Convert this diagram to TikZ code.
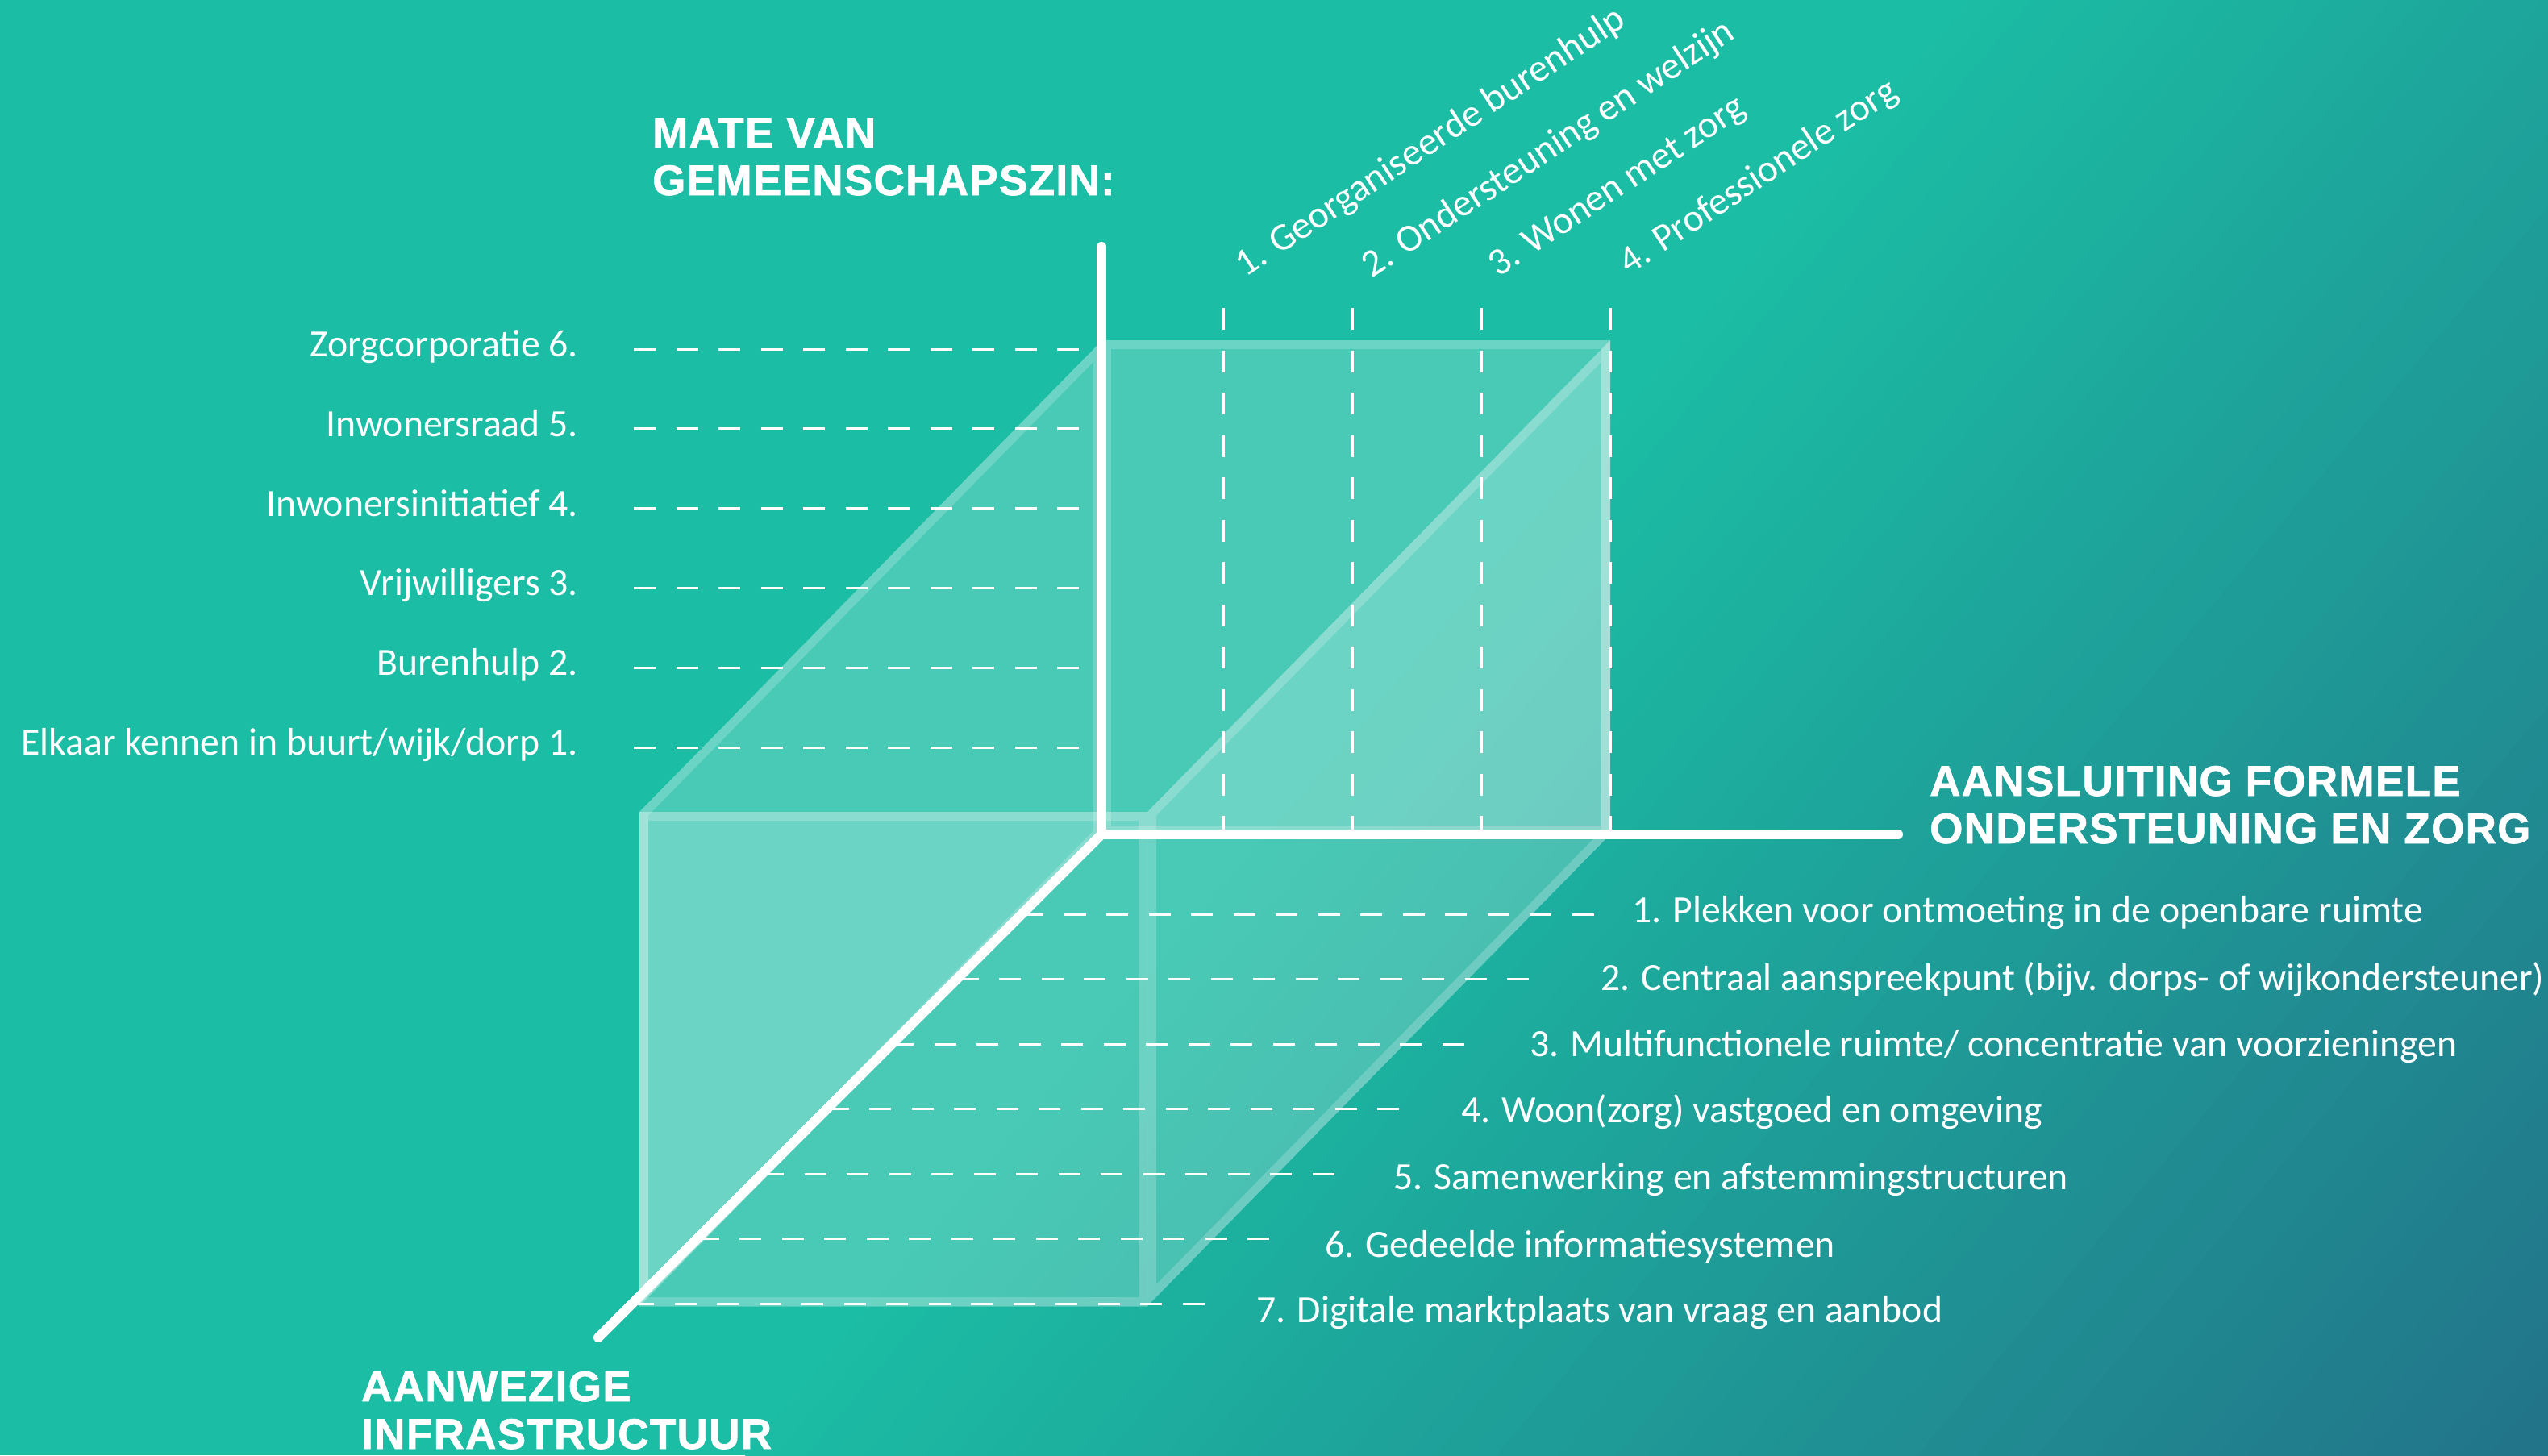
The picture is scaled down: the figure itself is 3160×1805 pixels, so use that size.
\documentclass[tikz,border=0pt]{standalone}
\usepackage{fontspec}
\setmainfont{Carlito}
\newfontfamily\headfont[LetterSpace=2.5,FakeBold=1.2]{Liberation Sans}
\definecolor{bgA}{HTML}{1BBDA4}
\definecolor{bgB}{HTML}{227489}
\tikzset{
  axisline/.style={white, line width=12pt, line cap=round, line join=miter},
  dashline/.style={white, line width=3pt, dash pattern=on 27pt off 25.5pt},
  panelfill/.style={fill=white, fill opacity=0.2},
  panelrim/.style={draw=white, draw opacity=0.2, line width=22pt},
  lbl/.style={text=white, inner sep=0pt, font=\fontsize{47.7}{56}\selectfont},
  head/.style={text=white, inner sep=0pt, font=\headfont\bfseries\fontsize{53}{59}\selectfont},
}
\newcommand{\panelface}[4]{%
  \begin{scope}
    \clip (#1) -- (#2) -- (#3) -- (#4) -- cycle;
    \fill[panelfill] (#1) -- (#2) -- (#3) -- (#4) -- cycle;
    \draw[panelrim] (#1) -- (#2) -- (#3) -- (#4) -- cycle;
  \end{scope}}
\begin{document}
\begin{tikzpicture}[x=1pt,y=-1pt]
\useasboundingbox (0,0) rectangle (3160,1805);
% background gradient
\fill[bgA] (0,0) rectangle (3160,1805);
\begin{scope}
  \clip (0,0) rectangle (3160,1805);
  \begin{scope}[x={(0.7649pt,-0.6441pt)}, y={(-0.6441pt,-0.7649pt)}]
    \foreach \i in {1,...,60} {
      \pgfmathsetmacro\tt{1870+\i*28.5-28.5}
      \pgfmathsetmacro\pp{\i*100/60}
      \fill[bgB!\pp!bgA] (\tt,-3000) -- (5000,-3000) -- (5000,3000) -- (\tt,3000) -- cycle;
    }
  \end{scope}
\end{scope}

% box corners
\coordinate (B1) at (1367,422);
\coordinate (B2) at (1997,422);
\coordinate (B3) at (1997,1035);
\coordinate (B4) at (1367,1035);
\coordinate (F1) at (793,1007);
\coordinate (F2) at (1423,1007);
\coordinate (F3) at (1423,1620);
\coordinate (F4) at (793,1620);

\panelface{B1}{B2}{B3}{B4}
\panelface{B1}{B4}{F4}{F1}
\panelface{B2}{B3}{F3}{F2}
\panelface{F1}{F2}{F3}{F4}

% dashed guide lines: left scale
\foreach \i in {0,...,5} {
  \coordinate (la\i) at (786,433+98.8*\i);
  \coordinate (lb\i) at (1340,433+98.8*\i);
  \draw[dashline] (la\i) -- (lb\i);
}
% vertical guide lines
\foreach \i in {0,...,3} {
  \coordinate (va\i) at (1517+160*\i,382);
  \coordinate (vb\i) at (1517+160*\i,1030);
  \draw[dashline] (va\i) -- (vb\i);
}
% bottom guide lines
\foreach \i in {0,...,6} {
  \coordinate (ba\i) at (1267-80.5*\i,1134+80.5*\i);
  \coordinate (bb\i) at (1977-80.5*\i,1134+80.5*\i);
  \draw[dashline] (ba\i) -- (bb\i);
}

% axes
\coordinate (O) at (1366,1035);
\coordinate (Ytop) at (1366,306);
\coordinate (Xend) at (2354,1035);
\coordinate (Zend) at (742,1659);
\draw[axisline] (Ytop) -- (O) -- (Xend);
\draw[axisline] (O) -- (Zend);

% headings
\node[head, anchor=base west] (hya) at (809,183) {MATE VAN};
\node[head, anchor=base west] (hyb) at (809,242) {GEMEENSCHAPSZIN:};
\node[head, anchor=base west] (hxa) at (2393,987) {AANSLUITING FORMELE};
\node[head, anchor=base west] (hxb) at (2393,1046) {ONDERSTEUNING EN ZORG};
\node[head, anchor=base west] (hza) at (448,1738) {AANWEZIGE};
\node[head, anchor=base west] (hzb) at (448,1797) {INFRASTRUCTUUR};

% left labels
\node[lbl, anchor=base east] (l6) at (717,442) {Zorgcorporatie 6.};
\node[lbl, anchor=base east] (l5) at (717,541) {Inwonersraad 5.};
\node[lbl, anchor=base east] (l4) at (717,640) {Inwonersinitiatief 4.};
\node[lbl, anchor=base east] (l3) at (717,738) {Vrijwilligers 3.};
\node[lbl, anchor=base east] (l2) at (717,837) {Burenhulp 2.};
\node[lbl, anchor=base east] (l1) at (717,936) {Elkaar kennen in buurt/wijk/dorp 1.};

% top labels
\node[lbl, anchor=base west, rotate=33.5] (t1) at (1544,345) {1. Georganiseerde burenhulp};
\node[lbl, anchor=base west, rotate=33.5] (t2) at (1701,346) {2. Ondersteuning en welzijn};
\node[lbl, anchor=base west, rotate=33.5] (t3) at (1858,345) {3. Wonen met zorg};
\node[lbl, anchor=base west, rotate=33.5] (t4) at (2020,342) {4. Professionele zorg};

% bottom labels
\node[lbl, anchor=base west] (r1) at (2024,1144) {1. Plekken voor ontmoeting in de openbare ruimte};
\node[lbl, anchor=base west] (r2) at (1985,1228) {2. Centraal aanspreekpunt (bijv. dorps- of wijkondersteuner)};
\node[lbl, anchor=base west] (r3) at (1897,1310) {3. Multifunctionele ruimte/ concentratie van voorzieningen};
\node[lbl, anchor=base west] (r4) at (1812,1392) {4. Woon(zorg) vastgoed en omgeving};
\node[lbl, anchor=base west] (r5) at (1728,1475) {5. Samenwerking en afstemmingstructuren};
\node[lbl, anchor=base west] (r6) at (1643,1559) {6. Gedeelde informatiesystemen};
\node[lbl, anchor=base west] (r7) at (1558,1640) {7. Digitale marktplaats van vraag en aanbod};
\end{tikzpicture}
\end{document}
